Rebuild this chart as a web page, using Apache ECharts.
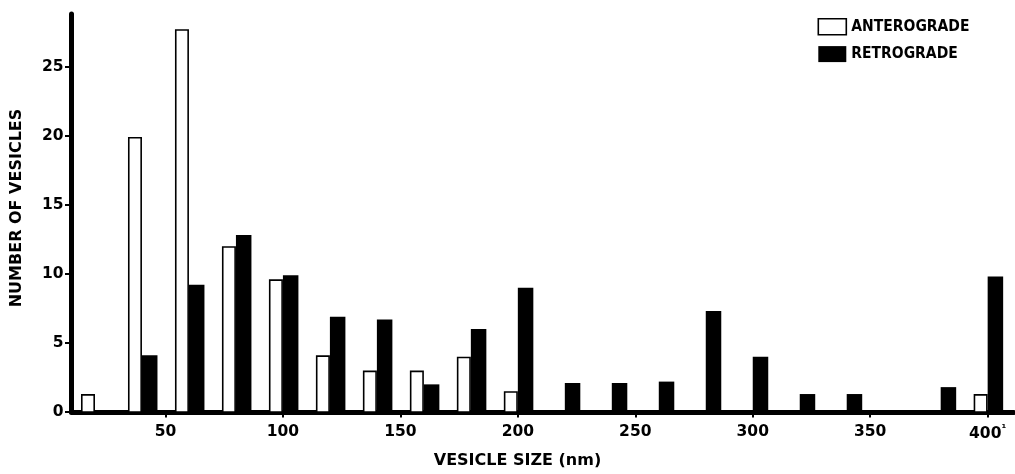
<!DOCTYPE html>
<html>
<head>
<meta charset="utf-8">
<script src="https://cdn.jsdelivr.net/npm/echarts@6/dist/echarts.min.js"></script>
<style>
html,body{margin:0;padding:0;background:#fff;}
#chart{width:1015px;height:474px;}
</style>
</head>
<body>
<div id="chart"></div>
<script>
// Vesicle size bins (nm)
const sizes = [20,40,60,80,100,120,140,160,180,200,220,240,260,280,300,320,340,360,380,400];
// Number of vesicles per bin
const anterograde = [1.3,19.9,27.7,12.0,9.6,4.1,3.0,3.0,4.0,1.5,0,0,0,0,0,0,0,0,0,1.3];
const retrograde  = [0,4.1,9.2,12.8,9.9,6.9,6.7,2.0,6.0,9.0,2.1,2.1,2.2,7.3,4.0,1.3,1.3,0,1.8,9.8];
// Tick labels
const xTicks = [50,100,150,200,250,300,350,400];
const yTicks = [0,5,10,15,20,25];

const FONT = "'DejaVu Sans', sans-serif";

function pairs(vals){ return sizes.map((s,i)=>[s, vals[i]]).filter(d=>d[1]>0); }

function barRenderer(side){
  return function(params, api){
    const x = api.value(0), y = api.value(1);
    const p0 = api.coord([x, 0]);
    const p1 = api.coord([x, y]);
    if (side === 'left') {
      const w = 14, lw = 1.6;
      return {type:'rect', shape:{x:p0[0]-w+lw/2, y:p1[1]+lw/2, width:w-lw, height:p0[1]-p1[1]-lw/2},
              style:{fill:'#fff', stroke:'#000', lineWidth:lw}};
    } else {
      const w = 15.5;
      return {type:'rect', shape:{x:p0[0], y:p1[1], width:w, height:p0[1]-p1[1]},
              style:{fill:'#000'}};
    }
  };
}

const chart = echarts.init(document.getElementById('chart'), null, {renderer:'canvas'});
chart.setOption({
  animation:false,
  backgroundColor:'#fff',
  grid:{left:71.5, right:1.5, top:14, bottom:59.5},
  legend:{
    orient:'vertical', left:812.5, top:13, itemWidth:28, itemHeight:16, itemGap:10.5,
    textStyle:{fontFamily:"'DejaVu Sans Condensed','DejaVu Sans',sans-serif", fontWeight:'bold', fontSize:15.5, color:'#000'},
    data:[
      {name:'ANTEROGRADE', icon:'rect', itemStyle:{color:'#fff', borderColor:'#000', borderWidth:1.6}},
      {name:'RETROGRADE', icon:'rect', itemStyle:{color:'#000', borderWidth:0}}
    ]
  },
  xAxis:{
    type:'value', min:10, max:411,
    name:'VESICLE SIZE (nm)', nameLocation:'middle', nameGap:41,
    nameTextStyle:{fontFamily:FONT, fontWeight:'bold', fontSize:16, color:'#000', padding:[0,50,0,0]},
    axisLine:{show:true, onZero:false, lineStyle:{color:'#000', width:5}},
    axisTick:{show:true, customValues:xTicks, length:5.5, lineStyle:{color:'#000', width:2}},
    axisLabel:{customValues:xTicks, margin:12, fontFamily:FONT, fontWeight:'bold', fontSize:15.5, color:'#000',
      formatter:function(v){ return v===400 ? '400{s|¹}' : String(v); },
      rich:{s:{fontSize:11, fontWeight:'bold', fontFamily:FONT, color:'#000', verticalAlign:'top', padding:[0,0,8,0]}}},
    splitLine:{show:false}
  },
  yAxis:{
    type:'value', min:0, max:28.8,
    name:'NUMBER OF VESICLES', nameLocation:'middle', nameGap:46.5, nameRotate:90,
    nameTextStyle:{fontFamily:FONT, fontWeight:'bold', fontSize:16, color:'#000', padding:[0,0,0,10]},
    axisLine:{show:true, lineStyle:{color:'#000', width:5}},
    axisTick:{show:true, customValues:yTicks, length:6.5, lineStyle:{color:'#000', width:2}},
    axisLabel:{customValues:yTicks, margin:8, fontFamily:FONT, fontWeight:'bold', fontSize:15.5, color:'#000'},
    splitLine:{show:false}
  },
  series:[
    {name:'ANTEROGRADE', type:'custom', renderItem:barRenderer('left'), data:pairs(anterograde),
     itemStyle:{color:'#fff', borderColor:'#000', borderWidth:1.6}, z:1},
    {name:'RETROGRADE', type:'custom', renderItem:barRenderer('right'), data:pairs(retrograde),
     itemStyle:{color:'#000'}, z:1}
  ]
});
</script>
</body>
</html>
